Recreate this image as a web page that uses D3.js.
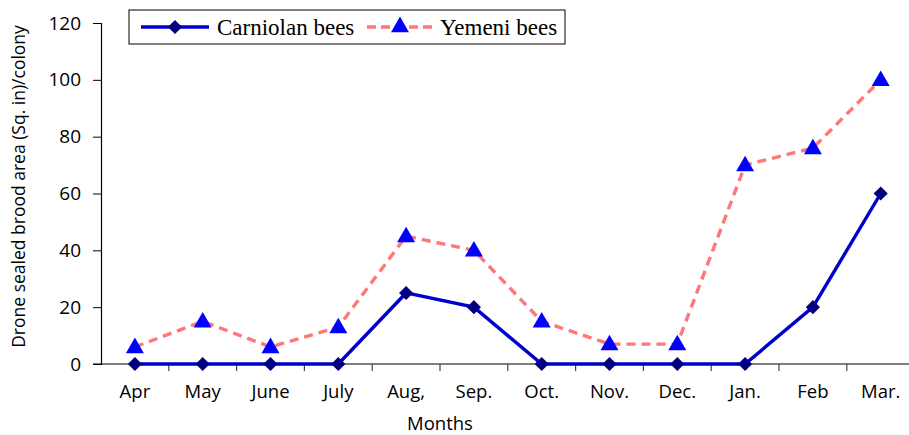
<!DOCTYPE html>
<html>
<head>
<meta charset="utf-8">
<script src="https://cdn.jsdelivr.net/npm/d3@7"></script>
<style>
  body { margin: 0; background: #fff; }
  svg { display: block; }
</style>
</head>
<body>
<div id="chart"></div>
<script>
// Data
const months = ["Apr", "May", "June", "July", "Aug,", "Sep.", "Oct.", "Nov.", "Dec.", "Jan.", "Feb", "Mar."];
const carniolan = [0, 0, 0, 0, 25, 20, 0, 0, 0, 0, 20, 60];
const yemeni = [6, 15, 6, 13, 45, 40, 15, 7, 7, 70, 76, 100];
const yTicks = [0, 20, 40, 60, 80, 100, 120];

const W = 909, H = 435;
const margin = { left: 101, top: 23, bottom: 71 };
const band = 67.8;

const svg = d3.select("#chart").append("svg")
  .attr("width", W)
  .attr("height", H);

// x scale: one band per month, starts at the y axis
const x = d3.scaleBand()
  .domain(months)
  .range([margin.left, margin.left + band * months.length])
  .paddingInner(0).paddingOuter(0);

const y = d3.scaleLinear()
  .domain([0, 120])
  .range([H - margin.bottom, margin.top]);

const axisFont = "'Open Sans', 'Noto Sans', sans-serif";

// y axis
const yAxis = svg.append("g")
  .attr("transform", `translate(${margin.left},0)`)
  .call(d3.axisLeft(y).tickValues(yTicks).tickSize(8).tickPadding(12));
yAxis.select(".domain").attr("stroke", "#000").attr("stroke-width", 1.2);
yAxis.selectAll(".tick line").attr("stroke", "#000");
yAxis.selectAll("text")
  .attr("font-family", axisFont)
  .attr("font-size", 19)
  .attr("fill", "#000");

// x axis line + ticks at band edges
const x0 = y(0);
svg.append("line")
  .attr("x1", margin.left - 8).attr("x2", W)
  .attr("y1", x0).attr("y2", x0)
  .attr("stroke", "#000").attr("stroke-width", 1.2);

svg.append("g")
  .selectAll("line")
  .data(months)
  .join("line")
  .attr("x1", d => x(d) + x.bandwidth())
  .attr("x2", d => x(d) + x.bandwidth())
  .attr("y1", x0)
  .attr("y2", x0 + 7)
  .attr("stroke", "#444")
  .attr("stroke-width", 1.2);

svg.append("g")
  .selectAll("text")
  .data(months)
  .join("text")
  .attr("x", d => x(d) + x.bandwidth() / 2)
  .attr("y", x0 + 34)
  .attr("text-anchor", "middle")
  .attr("font-family", axisFont)
  .attr("font-size", 18.5)
  .text(d => d);

// axis titles
svg.append("text")
  .attr("x", x(months[5]))
  .attr("y", 430)
  .attr("text-anchor", "middle")
  .attr("font-family", axisFont)
  .attr("font-size", 18.5)
  .text("Months");

svg.append("text")
  .attr("transform", `translate(25,${(y(0) + y(120)) / 2 - 7}) rotate(-90)`)
  .attr("text-anchor", "middle")
  .attr("font-family", axisFont)
  .attr("font-size", 17.5)
  .text("Drone sealed brood area (Sq. in)/colony");

const cx = (d, i) => x(months[i]) + x.bandwidth() / 2;

const line = d3.line()
  .x((d, i) => cx(d, i))
  .y(d => y(d));

// Yemeni bees: dashed salmon line, blue triangles
svg.append("path")
  .datum(yemeni)
  .attr("fill", "none")
  .attr("stroke", "#FF7777")
  .attr("stroke-width", 3.4)
  .attr("stroke-dasharray", "9,6")
  .attr("d", line);

// Carniolan bees: solid blue line, navy diamonds
svg.append("path")
  .datum(carniolan)
  .attr("fill", "none")
  .attr("stroke", "#0000CC")
  .attr("stroke-width", 3.4)
  .attr("d", line);

const tri = d3.symbol().type(d3.symbolTriangle).size(140);
const dia = d3.symbol().type(d3.symbolSquare).size(100);

svg.append("g")
  .selectAll("path")
  .data(carniolan)
  .join("path")
  .attr("d", dia)
  .attr("transform", (d, i) => `translate(${cx(d, i)},${y(d)}) rotate(45)`)
  .attr("fill", "#000080");

svg.append("g")
  .selectAll("path")
  .data(yemeni)
  .join("path")
  .attr("d", tri)
  .attr("transform", (d, i) => `translate(${cx(d, i)},${y(d) + 1})`)
  .attr("fill", "#0000FF");

// legend
const lg = svg.append("g").attr("transform", "translate(129,10)");
lg.append("rect")
  .attr("width", 436).attr("height", 34)
  .attr("fill", "#fff").attr("stroke", "#000").attr("stroke-width", 1);

const serif = "'Liberation Serif', 'Times New Roman', serif";

lg.append("line")
  .attr("x1", 12).attr("x2", 80).attr("y1", 17).attr("y2", 17)
  .attr("stroke", "#0000CC").attr("stroke-width", 3.4);
lg.append("path")
  .attr("d", dia)
  .attr("transform", "translate(46,17) rotate(45)")
  .attr("fill", "#000080");
lg.append("text")
  .attr("x", 88).attr("y", 25)
  .attr("font-family", serif).attr("font-size", 23)
  .text("Carniolan bees");

lg.append("line")
  .attr("x1", 238).attr("x2", 304).attr("y1", 17).attr("y2", 17)
  .attr("stroke", "#FF7777").attr("stroke-width", 3.4)
  .attr("stroke-dasharray", "9,5");
lg.append("path")
  .attr("d", tri)
  .attr("transform", "translate(271,17)")
  .attr("fill", "#0000FF");
lg.append("text")
  .attr("x", 311).attr("y", 25)
  .attr("font-family", serif).attr("font-size", 23)
  .text("Yemeni bees");
</script>
</body>
</html>
